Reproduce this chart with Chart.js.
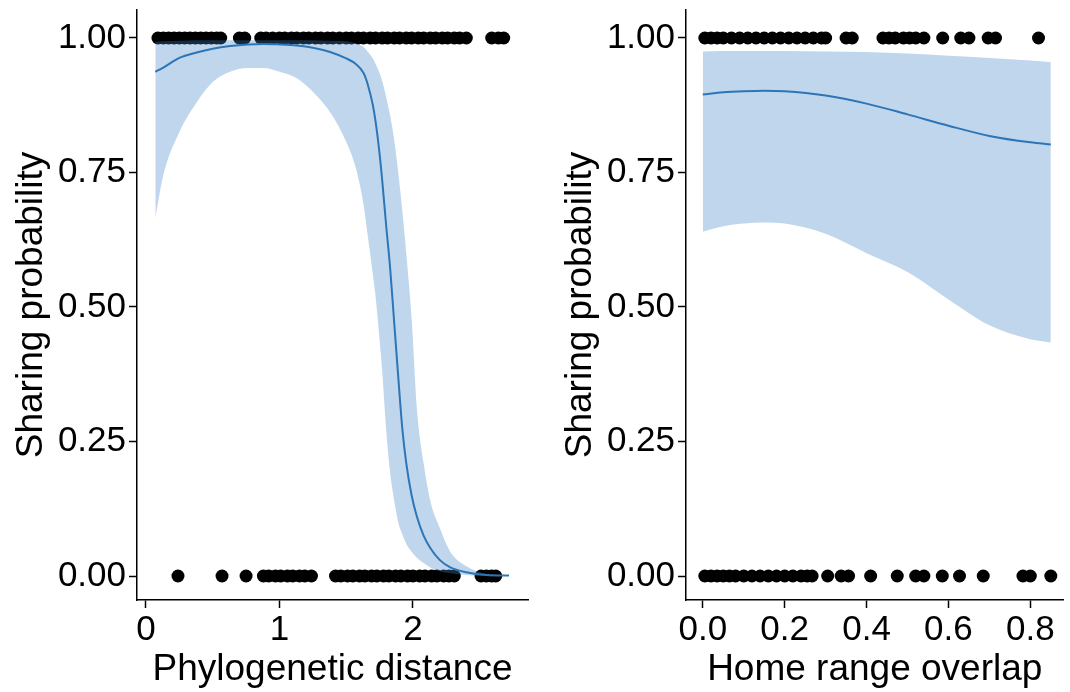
<!DOCTYPE html>
<html>
<head>
<meta charset="utf-8">
<script src="https://cdn.jsdelivr.net/npm/chart.js@4.4.1/dist/chart.umd.min.js"></script>
<style>
  html, body { margin: 0; padding: 0; background: #fff; }
  #wrap { position: relative; width: 1070px; height: 692px; }
  canvas { position: absolute; top: 0; }
  #left { left: 0; }
  #right { left: 535px; }
</style>
</head>
<body>
<div id="wrap">
  <canvas id="left" width="535" height="692"></canvas>
  <canvas id="right" width="535" height="692"></canvas>
</div>
<script>
// shared y axis
const yTicks = [0, 0.25, 0.5, 0.75, 1];
const yTickLabels = ['0.00', '0.25', '0.50', '0.75', '1.00'];

// left panel - phylogenetic distance
const phyloTicks = [0, 1, 2];
const phyloTickLabels = ['0', '1', '2'];
const phyloShared = [0.09, 0.13, 0.17, 0.21, 0.25, 0.29, 0.33, 0.37, 0.41, 0.45, 0.49, 0.53, 0.56,
  0.70, 0.74, 0.86, 0.90, 0.95, 1.00, 1.04, 1.09, 1.13, 1.18, 1.22, 1.27, 1.31, 1.36, 1.40, 1.45,
  1.50, 1.54, 1.59, 1.63, 1.68, 1.72, 1.77, 1.81, 1.86, 1.90, 1.95, 1.99, 2.04, 2.08, 2.13, 2.17,
  2.22, 2.26, 2.31, 2.35, 2.40, 2.59, 2.64, 2.68];
const phyloNotShared = [0.24, 0.57, 0.75, 0.88, 0.92, 0.97, 1.01, 1.06, 1.10, 1.15, 1.19, 1.24,
  1.42, 1.46, 1.51, 1.55, 1.60, 1.64, 1.69, 1.73, 1.78, 1.82, 1.87, 1.91, 1.96, 2.00, 2.05, 2.09,
  2.14, 2.18, 2.23, 2.27, 2.31, 2.51, 2.55, 2.59, 2.62];
const phyloCurveX = [0.07, 0.13, 0.25, 0.38, 0.5, 0.63, 0.76, 0.88, 1.0, 1.13, 1.25, 1.38, 1.5, 1.57,
  1.63, 1.66, 1.7, 1.72, 1.75, 1.77, 1.8, 1.83, 1.86, 1.89, 1.92, 1.95, 1.99, 2.03, 2.08, 2.13, 2.2,
  2.28, 2.4, 2.55, 2.72];
const phyloFit = [0.937, 0.945, 0.963, 0.973, 0.98, 0.985, 0.988, 0.989, 0.988, 0.986, 0.982, 0.974,
  0.962, 0.952, 0.935, 0.915, 0.875, 0.845, 0.785, 0.735, 0.65, 0.57, 0.47, 0.37, 0.275, 0.21, 0.15,
  0.11, 0.075, 0.052, 0.03, 0.016, 0.007, 0.002, 0.001];
const phyloUpper = [0.993, 0.994, 0.995, 0.996, 0.996, 0.996, 0.996, 0.996, 0.996, 0.996, 0.996,
  0.995, 0.994, 0.99, 0.983, 0.975, 0.962, 0.952, 0.935, 0.92, 0.89, 0.855, 0.81, 0.75, 0.68, 0.6,
  0.48, 0.31, 0.21, 0.14, 0.09, 0.045, 0.018, 0.004, 0.001];
const phyloLower = [0.665, 0.745, 0.825, 0.88, 0.918, 0.937, 0.944, 0.944, 0.937, 0.925, 0.9, 0.862,
  0.807, 0.76, 0.69, 0.635, 0.56, 0.52, 0.44, 0.38, 0.27, 0.19, 0.14, 0.1, 0.078, 0.06, 0.045, 0.034,
  0.024, 0.016, 0.009, 0.005, 0.002, 0, 0];

// right panel - home range overlap
const rangeTicks = [0, 0.2, 0.4, 0.6, 0.8];
const rangeTickLabels = ['0.0', '0.2', '0.4', '0.6', '0.8'];
const rangeShared = [0.005, 0.02, 0.035, 0.05, 0.07, 0.09, 0.11, 0.13, 0.15, 0.17, 0.19, 0.21, 0.23,
  0.25, 0.27, 0.29, 0.30, 0.35, 0.365, 0.44, 0.455, 0.47, 0.49, 0.505, 0.52, 0.54, 0.586, 0.63, 0.65,
  0.697, 0.715, 0.82];
const rangeNotShared = [0.005, 0.02, 0.035, 0.05, 0.065, 0.08, 0.10, 0.12, 0.14, 0.16, 0.18, 0.20,
  0.22, 0.24, 0.255, 0.267, 0.305, 0.338, 0.356, 0.41, 0.475, 0.52, 0.54, 0.585, 0.627, 0.685, 0.782,
  0.80, 0.85];
const rangeCurveX = [0, 0.05, 0.1, 0.15, 0.2, 0.3, 0.4, 0.5, 0.6, 0.7, 0.8, 0.85];
const rangeFit = [0.895, 0.899, 0.901, 0.902, 0.901, 0.893, 0.878, 0.858, 0.837, 0.818, 0.806, 0.802];
const rangeUpper = [0.975, 0.976, 0.976, 0.976, 0.976, 0.975, 0.974, 0.971, 0.967, 0.963, 0.958, 0.955];
const rangeLower = [0.64, 0.65, 0.655, 0.657, 0.655, 0.636, 0.6, 0.565, 0.514, 0.466, 0.44, 0.434];

const FONT = "'Liberation Sans', Arial, sans-serif";
const LINE = 'rgb(46,117,182)';
const BAND = 'rgba(60,130,200,0.33)';

function pts(xs, y) { return xs.map(x => ({x: x, y: y})); }
function curve(xs, ys) { return xs.map((x, i) => ({x: x, y: ys[i]})); }

function makeChart(id, p) {
  let ctx = document.getElementById(id).getContext('2d');
  return new Chart(ctx, {
    type: 'scatter',
    data: {
      datasets: [
        {data: pts(p.shared, 1), backgroundColor: '#000', borderWidth: 0, pointRadius: 6.5, order: 3},
        {data: pts(p.notShared, 0), backgroundColor: '#000', borderWidth: 0, pointRadius: 6.5, order: 3},
        {type: 'line', data: curve(p.curveX, p.upper), borderWidth: 0, pointRadius: 0, fill: false,
         cubicInterpolationMode: 'monotone', order: 2},
        {type: 'line', data: curve(p.curveX, p.lower), borderWidth: 0, pointRadius: 0, fill: '-1',
         backgroundColor: BAND, cubicInterpolationMode: 'monotone', order: 1},
        {type: 'line', data: curve(p.curveX, p.fit), borderColor: LINE, borderWidth: 2, pointRadius: 0,
         fill: false, cubicInterpolationMode: 'monotone', order: 0}
      ]
    },
    options: {
      responsive: false,
      animation: false,
      layout: {padding: {top: 10, right: p.padRight, bottom: 0, left: 0}},
      plugins: {legend: {display: false}, tooltip: {enabled: false}},
      scales: {
        x: {
          type: 'linear', min: p.xMin, max: p.xMax,
          afterFit: s => { s.height = 92; },
          afterBuildTicks: s => { s.ticks = p.xTicks.map(v => ({value: v})); },
          ticks: {callback: (v, i) => p.xTickLabels[i], color: '#000', font: {size: 35, family: FONT},
                  padding: 1, maxRotation: 0},
          grid: {drawOnChartArea: false, tickLength: 8, tickColor: '#000', tickWidth: 1.5},
          border: {color: '#000', width: 1.5},
          title: {display: true, text: p.xTitle, color: '#000', font: {size: 37, family: FONT},
                  padding: {top: 0, bottom: 0}}
        },
        y: {
          type: 'linear', min: -0.0446, max: 1.052,
          afterFit: s => { s.width = p.yWidth; s.paddingTop = 0; s.paddingBottom = 0; },
          afterBuildTicks: s => { s.ticks = yTicks.map(v => ({value: v})); },
          ticks: {callback: (v, i) => yTickLabels[i], color: '#000', font: {size: 35, family: FONT},
                  padding: 3},
          grid: {drawOnChartArea: false, tickLength: 8, tickColor: '#000', tickWidth: 1.5},
          border: {color: '#000', width: 1.5},
          title: {display: true, text: 'Sharing probability', color: '#000',
                  font: {size: 37, family: FONT}, padding: {top: p.titlePad, bottom: 0}}
        }
      }
    }
  });
}

makeChart('left', {
  shared: phyloShared, notShared: phyloNotShared, curveX: phyloCurveX,
  fit: phyloFit, upper: phyloUpper, lower: phyloLower,
  xTicks: phyloTicks, xTickLabels: phyloTickLabels, xTitle: 'Phylogenetic distance',
  xMin: -0.067, xMax: 2.862, yWidth: 137, padRight: 7, titlePad: 10
});

makeChart('right', {
  shared: rangeShared, notShared: rangeNotShared, curveX: rangeCurveX,
  fit: rangeFit, upper: rangeUpper, lower: rangeLower,
  xTicks: rangeTicks, xTickLabels: rangeTickLabels, xTitle: 'Home range overlap',
  xMin: -0.041, xMax: 0.881, yWidth: 151, padRight: 0, titlePad: 24
});
</script>
</body>
</html>
